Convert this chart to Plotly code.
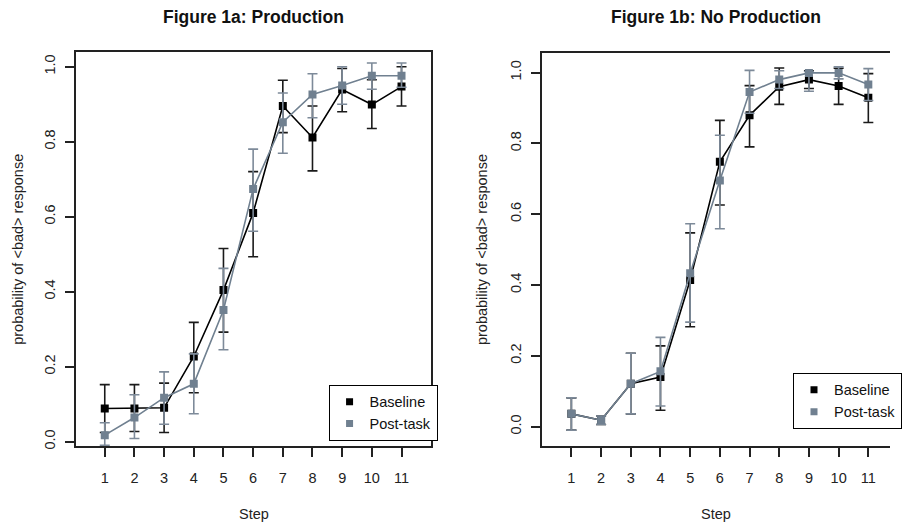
import plotly.graph_objects as go

steps = list(range(1, 12))

# Figure 1a: Production
prod_base = [0.088, 0.088, 0.090, 0.227, 0.404, 0.610, 0.895, 0.811, 0.939, 0.899, 0.947]
prod_base_hi = [0.152, 0.152, 0.156, 0.318, 0.515, 0.720, 0.964, 0.895, 0.995, 0.965, 1.000]
prod_base_lo = [0.024, 0.027, 0.024, 0.130, 0.292, 0.493, 0.824, 0.722, 0.880, 0.835, 0.895]
prod_post = [0.017, 0.064, 0.117, 0.154, 0.351, 0.674, 0.852, 0.926, 0.950, 0.976, 0.976]
prod_post_hi = [0.050, 0.125, 0.186, 0.234, 0.462, 0.780, 0.930, 0.981, 1.000, 1.010, 1.010]
prod_post_lo = [-0.010, 0.008, 0.046, 0.074, 0.245, 0.561, 0.769, 0.864, 0.900, 0.940, 0.945]

# Figure 1b: No Production
nop_base = [0.036, 0.018, 0.121, 0.140, 0.414, 0.748, 0.879, 0.960, 0.980, 0.962, 0.929]
nop_base_hi = [0.081, 0.030, 0.207, 0.228, 0.547, 0.865, 0.963, 1.013, 1.005, 1.012, 0.997]
nop_base_lo = [-0.010, 0.006, 0.036, 0.046, 0.282, 0.626, 0.790, 0.910, 0.955, 0.910, 0.859]
nop_post = [0.036, 0.018, 0.121, 0.156, 0.433, 0.695, 0.945, 0.980, 0.999, 0.999, 0.966]
nop_post_hi = [0.081, 0.030, 0.207, 0.252, 0.573, 0.823, 1.006, 1.005, 1.003, 1.016, 1.011]
nop_post_lo = [-0.010, 0.006, 0.036, 0.058, 0.295, 0.559, 0.885, 0.955, 0.947, 0.982, 0.921]

y_ticks = [0.0, 0.2, 0.4, 0.6, 0.8, 1.0]
y_ticklabels = ["0.0", "0.2", "0.4", "0.6", "0.8", "1.0"]
titles = ["Figure 1a: Production", "Figure 1b: No Production"]
series_names = ["Baseline", "Post-task"]

BLACK = "#000000"
GREY = "#708090"
GREY_BAR = "#7d8a99"
FONT = "Liberation Sans, Arial, sans-serif"

W, H = 902, 524

def dom_x(a, b):
    return [a / W, min(b / W, 1.0)]

def dom_y(top, bottom):
    return [1 - bottom / H, 1 - top / H]

fig = go.Figure()

def add_panel(xa, ya, base, bhi, blo, post, phi, plo, legend):
    fig.add_trace(go.Scatter(
        x=steps, y=base, mode="lines+markers", xaxis=xa, yaxis=ya,
        line=dict(color=BLACK, width=1.6),
        marker=dict(symbol="square", size=8, color=BLACK),
        error_y=dict(type="data", symmetric=False,
                     array=[h - v for h, v in zip(bhi, base)],
                     arrayminus=[v - l for v, l in zip(base, blo)],
                     color="#1a1a1a", thickness=1.6, width=5),
        showlegend=False, hoverinfo="skip"))
    fig.add_trace(go.Scatter(
        x=steps, y=post, mode="lines+markers", xaxis=xa, yaxis=ya,
        line=dict(color=GREY, width=1.6),
        marker=dict(symbol="square", size=8, color=GREY),
        error_y=dict(type="data", symmetric=False,
                     array=[h - v for h, v in zip(phi, post)],
                     arrayminus=[v - l for v, l in zip(post, plo)],
                     color=GREY_BAR, thickness=1.6, width=5),
        showlegend=False, hoverinfo="skip"))
    for name, col in zip(series_names, [BLACK, GREY]):
        fig.add_trace(go.Scatter(
            x=[None], y=[None], mode="markers", name=name, xaxis=xa, yaxis=ya,
            marker=dict(symbol="square", size=7, color=col),
            showlegend=True, legend=legend))

add_panel("x", "y", prod_base, prod_base_hi, prod_base_lo,
          prod_post, prod_post_hi, prod_post_lo, "legend")
add_panel("x2", "y2", nop_base, nop_base_hi, nop_base_lo,
          nop_post, nop_post_hi, nop_post_lo, "legend2")

axis_common = dict(showgrid=False, zeroline=False, showline=True,
                   linecolor="#222222", linewidth=1.5,
                   ticks="outside", ticklen=9, tickwidth=1.5, tickcolor="#222222",
                   tickfont=dict(family=FONT, size=14.5, color="#222222"))

legend_common = dict(xanchor="left", yanchor="top",
                     bordercolor="#000000", borderwidth=1, bgcolor="white",
                     font=dict(family=FONT, size=14.5, color="#111111"),
                     itemwidth=30, tracegroupgap=0)

fig.update_layout(
    width=W, height=H,
    margin=dict(l=0, r=0, t=0, b=0),
    paper_bgcolor="white", plot_bgcolor="white",
    font=dict(family=FONT, color="#222222"),
    xaxis=dict(domain=dom_x(77, 437), range=[0.03, 12.0], mirror=True,
               tickvals=steps, ticktext=[str(s) for s in steps],
               ticklabelstandoff=8, anchor="y", **axis_common),
    yaxis=dict(domain=dom_y(52, 449), range=[-0.013, 1.040], mirror=True,
               tickvals=y_ticks, ticktext=y_ticklabels, tickangle=-90,
               ticklabelstandoff=4, anchor="x", **axis_common),
    xaxis2=dict(domain=dom_x(549, 902), range=[0.0, 11.73], mirror=True,
                tickvals=steps, ticktext=[str(s) for s in steps],
                ticklabelstandoff=8, anchor="y2", **axis_common),
    yaxis2=dict(domain=dom_y(53, 449), range=[-0.056, 1.056], mirror=False,
                tickvals=y_ticks, ticktext=y_ticklabels, tickangle=-90,
                ticklabelstandoff=4, anchor="x2", **axis_common),
    legend=dict(x=333 / W, y=1 - 387 / H, **legend_common),
    legend2=dict(x=804 / W, y=1 - 375 / H, **legend_common),
)

# Panel titles
for t, cx in zip(titles, [257, 726]):
    fig.add_annotation(text="<b>" + t + "</b>", x=cx / W, y=1 - 17 / H,
                       xref="paper", yref="paper", xanchor="center", yanchor="middle",
                       showarrow=False, font=dict(family=FONT, size=17.5, color="#111111"))

# Axis titles
for cx in [257, 726]:
    fig.add_annotation(text="Step", x=cx / W, y=1 - 517 / H, xref="paper", yref="paper",
                       xanchor="center", yanchor="middle",
                       showarrow=False, font=dict(family=FONT, size=14.5, color="#222222"))
for cx, (top, bot) in zip([18, 488], [(52, 449), (53, 449)]):
    fig.add_annotation(text="probability of &lt;bad&gt; response", textangle=-90,
                       x=cx / W, y=1 - (top + bot) / 2 / H, xref="paper", yref="paper",
                       xanchor="center", yanchor="middle",
                       showarrow=False, font=dict(family=FONT, size=14.5, color="#222222"))

fig.write_html("out.html")
